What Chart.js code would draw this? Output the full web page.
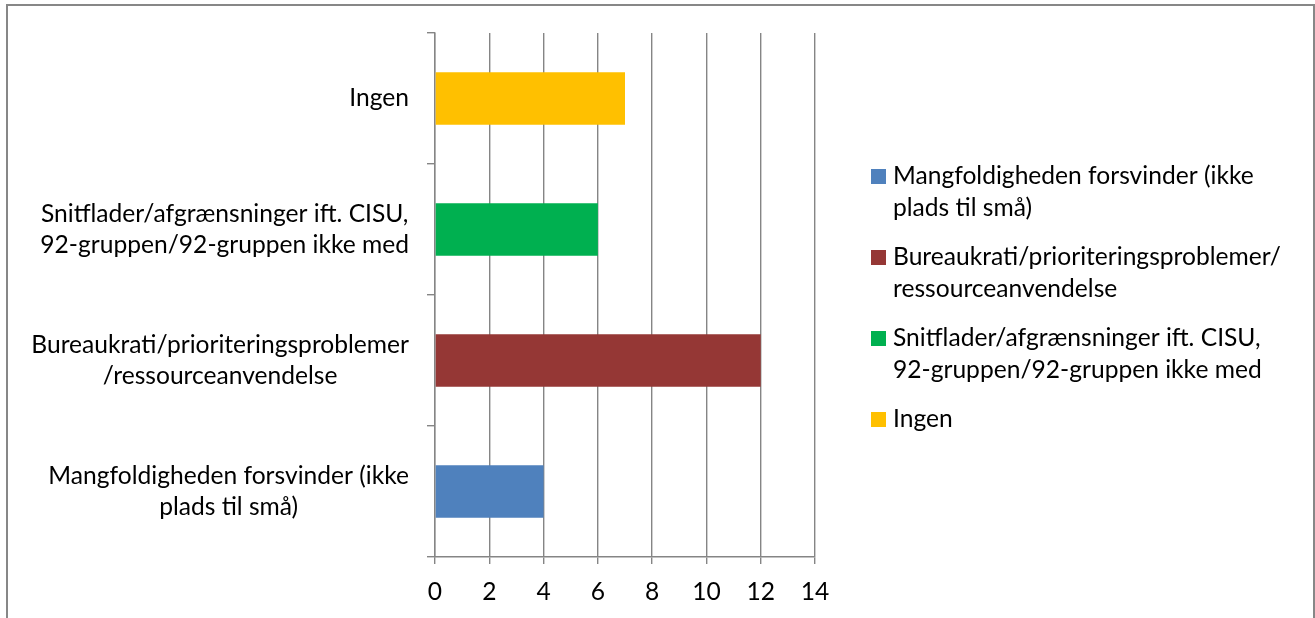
<!DOCTYPE html>
<html>
<head>
<meta charset="utf-8">
<script src="https://cdn.jsdelivr.net/npm/chart.js@4.4.1/dist/chart.umd.min.js"></script>
<style>
  html, body { margin: 0; padding: 0; background: #fff; overflow: hidden; }
  #wrap { position: relative; width: 1315px; height: 618px; }
  #frame { position: absolute; left: 6px; top: 4px; width: 1309px; height: 700px; border: 2px solid #878787; box-sizing: border-box; }
  canvas { position: absolute; left: 0; top: 0; }
</style>
</head>
<body>
<div id="wrap">
  <div id="frame"></div>
  <canvas id="c" width="1315" height="618"></canvas>
</div>
<script>
// ---- data ----
const categories = [
  'Mangfoldigheden forsvinder (ikke plads til små)',
  'Bureaukrati/prioriteringsproblemer/ressourceanvendelse',
  'Snitflader/afgrænsninger ift. CISU, 92-gruppen/92-gruppen ikke med',
  'Ingen'
];
const axisLabelLines = [
  ['Mangfoldigheden forsvinder (ikke', 'plads til små)'],
  ['Bureaukrati/prioriteringsproblemer', '/ressourceanvendelse'],
  ['Snitflader/afgrænsninger ift. CISU,', '92-gruppen/92-gruppen ikke med'],
  ['Ingen']
];
const legendLabelLines = [
  ['Mangfoldigheden forsvinder (ikke', 'plads til små)'],
  ['Bureaukrati/prioriteringsproblemer/', 'ressourceanvendelse'],
  ['Snitflader/afgrænsninger ift. CISU,', '92-gruppen/92-gruppen ikke med'],
  ['Ingen']
];
const values = [4, 12, 6, 7];
const colors = ['#4F81BD', '#953735', '#00B050', '#FFC000'];
const xTicks = [0, 2, 4, 6, 8, 10, 12, 14];

// ---- style ----
const FONT_FAMILY = 'Lato, "Open Sans", sans-serif';
const FONT_SIZE = 24.6;
const LINE_H = 31;
const GRID = '#858585';

const customLabels = {
  id: 'customLabels',
  afterDraw(chart) {
    const ctx = chart.ctx;
    const y = chart.scales.y;
    const area = chart.chartArea;
    ctx.save();
    ctx.font = FONT_SIZE + 'px ' + FONT_FAMILY;
    ctx.fillStyle = '#000';
    ctx.textBaseline = 'middle';
    ctx.textAlign = 'center';
    // axis category labels: block right-aligned, lines centred inside block
    const rightEdge = area.left - 26;
    axisLabelLines.forEach((lines, i) => {
      const py = y.getPixelForTick(i);
      const w = Math.max(...lines.map(l => ctx.measureText(l).width));
      const cx = rightEdge - w / 2;
      lines.forEach((l, j) => {
        ctx.fillText(l, cx, py + (j - (lines.length - 1) / 2) * LINE_H);
      });
    });
    // legend
    const LG_LINE = 31.5, LG_GAP = 18, BOX = 15;
    const totalLines = legendLabelLines.reduce((s, l) => s + l.length, 0);
    const totalH = totalLines * LG_LINE + (legendLabelLines.length - 1) * LG_GAP;
    let top = (area.top + area.bottom) / 2 + 3 - totalH / 2;
    const bx = area.right + 56;
    const tx = bx + 22;
    ctx.textAlign = 'left';
    legendLabelLines.forEach((lines, i) => {
      const c0 = top + LG_LINE / 2;
      ctx.fillStyle = colors[i];
      ctx.fillRect(bx, Math.round(c0 - BOX / 2), BOX, BOX);
      ctx.fillStyle = '#000';
      lines.forEach((l, j) => ctx.fillText(l, tx, c0 + j * LG_LINE));
      top += lines.length * LG_LINE + LG_GAP;
    });
    ctx.restore();
  }
};

new Chart(document.getElementById('c'), {
  type: 'bar',
  data: {
    labels: categories,
    datasets: [{
      data: values,
      backgroundColor: colors,
      borderWidth: 0,
      barPercentage: 0.4,
      categoryPercentage: 1.0
    }]
  },
  options: {
    indexAxis: 'y',
    responsive: false,
    animation: false,
    devicePixelRatio: 1,
    layout: { padding: { left: 0, right: 500, top: 33, bottom: 0 } },
    plugins: { legend: { display: false }, tooltip: { enabled: false } },
    scales: {
      x: {
        min: xTicks[0],
        max: xTicks[xTicks.length - 1],
        afterBuildTicks: (s) => { s.ticks = xTicks.map(v => ({ value: v })); },
        afterFit: (s) => { s.height = 61; },
        grid: { color: GRID, lineWidth: 1.4, tickLength: 7, drawOnChartArea: true },
        border: { color: GRID, width: 1.4 },
        ticks: { color: '#000', padding: 13, font: { family: FONT_FAMILY, size: FONT_SIZE } }
      },
      y: {
        reverse: true,
        offset: true,
        afterFit: (s) => { s.width = 435; },
        grid: { offset: true, color: GRID, lineWidth: 1.4, tickLength: 8, drawOnChartArea: false },
        border: { color: GRID, width: 1.4 },
        ticks: { color: 'rgba(0,0,0,0)', font: { family: FONT_FAMILY, size: FONT_SIZE } }
      }
    }
  },
  plugins: [customLabels]
});
</script>
</body>
</html>
